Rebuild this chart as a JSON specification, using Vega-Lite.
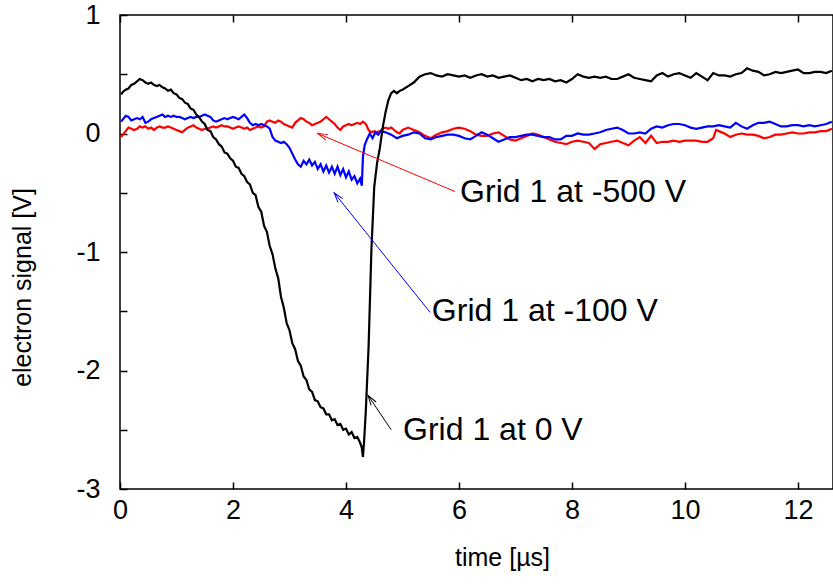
{
"$schema": "https://vega.github.io/schema/vega-lite/v6.json",
"width": 713, "height": 474,
"autosize": {"type": "none"},
"padding": {"left": 120, "top": 15, "right": 0, "bottom": 96},
"background": "white",
"config": {
  "font": "Liberation Sans",
  "view": {"stroke": "#000", "strokeWidth": 1.5},
  "axis": {"domain": false, "grid": false, "ticks": true, "tickColor": "#000", "tickWidth": 1.5, "tickSize": -7,
           "labelColor": "#000", "labelFont": "Liberation Sans", "labelFontSize": 27, "labelFlush": false, "labelOverlap": false,
           "titleFont": "Liberation Sans", "titleFontSize": 25, "titleFontWeight": "normal", "titleColor": "#000"}
},
"datasets": {
"curves": [
{"s":"r","t":0.02,"v":-0.03},{"s":"r","t":0.1,"v":0.02},{"s":"r","t":0.15,"v":0.05},{"s":"r","t":0.2,"v":0.04},{"s":"r","t":0.25,"v":0.03},{"s":"r","t":0.3,"v":0.04},{"s":"r","t":0.35,"v":0.06},{"s":"r","t":0.4,"v":0.05},{"s":"r","t":0.45,"v":0.06},{"s":"r","t":0.5,"v":0.04},{"s":"r","t":0.55,"v":0.05},{"s":"r","t":0.6,"v":0.03},{"s":"r","t":0.65,"v":0.05},{"s":"r","t":0.7,"v":0.06},{"s":"r","t":0.75,"v":0.05},{"s":"r","t":0.8,"v":0.05},{"s":"r","t":0.85,"v":0.06},{"s":"r","t":0.9,"v":0.05},{"s":"r","t":0.95,"v":0.04},{"s":"r","t":1.0,"v":0.03},{"s":"r","t":1.05,"v":0.02},{"s":"r","t":1.1,"v":0.01},{"s":"r","t":1.15,"v":0.03},{"s":"r","t":1.2,"v":0.05},{"s":"r","t":1.25,"v":0.06},{"s":"r","t":1.3,"v":0.07},{"s":"r","t":1.35,"v":0.05},{"s":"r","t":1.4,"v":0.04},{"s":"r","t":1.45,"v":0.03},{"s":"r","t":1.5,"v":0.04},{"s":"r","t":1.55,"v":0.04},{"s":"r","t":1.6,"v":0.05},{"s":"r","t":1.65,"v":0.06},{"s":"r","t":1.7,"v":0.05},{"s":"r","t":1.75,"v":0.06},{"s":"r","t":1.8,"v":0.07},{"s":"r","t":1.85,"v":0.06},{"s":"r","t":1.9,"v":0.06},{"s":"r","t":1.95,"v":0.05},{"s":"r","t":2.0,"v":0.04},{"s":"r","t":2.05,"v":0.05},{"s":"r","t":2.1,"v":0.06},{"s":"r","t":2.15,"v":0.05},{"s":"r","t":2.2,"v":0.04},{"s":"r","t":2.25,"v":0.05},{"s":"r","t":2.3,"v":0.03},{"s":"r","t":2.35,"v":0.04},{"s":"r","t":2.4,"v":0.05},{"s":"r","t":2.45,"v":0.06},{"s":"r","t":2.5,"v":0.05},{"s":"r","t":2.55,"v":0.06},{"s":"r","t":2.6,"v":0.1},{"s":"r","t":2.65,"v":0.11},{"s":"r","t":2.7,"v":0.1},{"s":"r","t":2.75,"v":0.09},{"s":"r","t":2.8,"v":0.11},{"s":"r","t":2.85,"v":0.1},{"s":"r","t":2.9,"v":0.08},{"s":"r","t":2.95,"v":0.07},{"s":"r","t":3.0,"v":0.06},{"s":"r","t":3.05,"v":0.05},{"s":"r","t":3.1,"v":0.09},{"s":"r","t":3.15,"v":0.11},{"s":"r","t":3.2,"v":0.13},{"s":"r","t":3.25,"v":0.12},{"s":"r","t":3.3,"v":0.1},{"s":"r","t":3.35,"v":0.09},{"s":"r","t":3.4,"v":0.07},{"s":"r","t":3.45,"v":0.08},{"s":"r","t":3.5,"v":0.09},{"s":"r","t":3.55,"v":0.1},{"s":"r","t":3.6,"v":0.12},{"s":"r","t":3.65,"v":0.14},{"s":"r","t":3.7,"v":0.12},{"s":"r","t":3.75,"v":0.1},{"s":"r","t":3.8,"v":0.08},{"s":"r","t":3.85,"v":0.05},{"s":"r","t":3.9,"v":0.03},{"s":"r","t":3.95,"v":0.06},{"s":"r","t":4.0,"v":0.07},{"s":"r","t":4.05,"v":0.08},{"s":"r","t":4.1,"v":0.07},{"s":"r","t":4.15,"v":0.08},{"s":"r","t":4.2,"v":0.09},{"s":"r","t":4.25,"v":0.08},{"s":"r","t":4.3,"v":0.1},{"s":"r","t":4.35,"v":0.08},{"s":"r","t":4.4,"v":0.03},{"s":"r","t":4.45,"v":0.01},{"s":"r","t":4.5,"v":0.02},{"s":"r","t":4.55,"v":0.01},{"s":"r","t":4.6,"v":0.02},{"s":"r","t":4.65,"v":0.04},{"s":"r","t":4.7,"v":0.05},{"s":"r","t":4.75,"v":0.04},{"s":"r","t":4.8,"v":0.05},{"s":"r","t":4.85,"v":0.03},{"s":"r","t":4.9,"v":0.01},{"s":"r","t":4.95,"v":0.0},{"s":"r","t":5.0,"v":0.03},{"s":"r","t":5.1,"v":0.05},{"s":"r","t":5.2,"v":0.03},{"s":"r","t":5.3,"v":0.01},{"s":"r","t":5.4,"v":-0.02},{"s":"r","t":5.5,"v":-0.04},{"s":"r","t":5.6,"v":-0.01},{"s":"r","t":5.7,"v":0.01},{"s":"r","t":5.8,"v":0.02},{"s":"r","t":5.9,"v":0.04},{"s":"r","t":6.0,"v":0.05},{"s":"r","t":6.1,"v":0.04},{"s":"r","t":6.2,"v":0.02},{"s":"r","t":6.3,"v":-0.01},{"s":"r","t":6.4,"v":-0.02},{"s":"r","t":6.5,"v":-0.02},{"s":"r","t":6.6,"v":0.0},{"s":"r","t":6.7,"v":0.01},{"s":"r","t":6.8,"v":-0.02},{"s":"r","t":6.9,"v":-0.05},{"s":"r","t":7.0,"v":-0.06},{"s":"r","t":7.1,"v":-0.04},{"s":"r","t":7.2,"v":-0.02},{"s":"r","t":7.3,"v":0.0},{"s":"r","t":7.4,"v":-0.01},{"s":"r","t":7.5,"v":-0.03},{"s":"r","t":7.6,"v":-0.05},{"s":"r","t":7.7,"v":-0.07},{"s":"r","t":7.8,"v":-0.08},{"s":"r","t":7.9,"v":-0.09},{"s":"r","t":8.0,"v":-0.07},{"s":"r","t":8.1,"v":-0.06},{"s":"r","t":8.2,"v":-0.07},{"s":"r","t":8.3,"v":-0.08},{"s":"r","t":8.4,"v":-0.13},{"s":"r","t":8.45,"v":-0.11},{"s":"r","t":8.5,"v":-0.09},{"s":"r","t":8.6,"v":-0.08},{"s":"r","t":8.7,"v":-0.07},{"s":"r","t":8.8,"v":-0.06},{"s":"r","t":8.9,"v":-0.08},{"s":"r","t":9.0,"v":-0.1},{"s":"r","t":9.1,"v":-0.06},{"s":"r","t":9.2,"v":-0.03},{"s":"r","t":9.3,"v":-0.08},{"s":"r","t":9.4,"v":-0.02},{"s":"r","t":9.5,"v":-0.08},{"s":"r","t":9.6,"v":-0.07},{"s":"r","t":9.7,"v":-0.07},{"s":"r","t":9.8,"v":-0.06},{"s":"r","t":9.9,"v":-0.07},{"s":"r","t":10.0,"v":-0.06},{"s":"r","t":10.1,"v":-0.06},{"s":"r","t":10.2,"v":-0.06},{"s":"r","t":10.3,"v":-0.07},{"s":"r","t":10.4,"v":-0.07},{"s":"r","t":10.5,"v":-0.04},{"s":"r","t":10.55,"v":0.03},{"s":"r","t":10.6,"v":0.02},{"s":"r","t":10.7,"v":0.0},{"s":"r","t":10.8,"v":-0.03},{"s":"r","t":10.9,"v":-0.01},{"s":"r","t":11.0,"v":0.0},{"s":"r","t":11.1,"v":-0.01},{"s":"r","t":11.2,"v":-0.01},{"s":"r","t":11.3,"v":-0.02},{"s":"r","t":11.4,"v":-0.04},{"s":"r","t":11.5,"v":-0.03},{"s":"r","t":11.6,"v":-0.01},{"s":"r","t":11.7,"v":-0.01},{"s":"r","t":11.8,"v":0.0},{"s":"r","t":11.9,"v":0.01},{"s":"r","t":12.0,"v":0.0},{"s":"r","t":12.1,"v":0.0},{"s":"r","t":12.2,"v":0.01},{"s":"r","t":12.3,"v":0.01},{"s":"r","t":12.4,"v":0.02},{"s":"r","t":12.5,"v":0.02},{"s":"r","t":12.6,"v":0.04},
{"s":"b","t":0.02,"v":0.1},{"s":"b","t":0.1,"v":0.15},{"s":"b","t":0.15,"v":0.14},{"s":"b","t":0.2,"v":0.11},{"s":"b","t":0.25,"v":0.12},{"s":"b","t":0.3,"v":0.13},{"s":"b","t":0.35,"v":0.12},{"s":"b","t":0.4,"v":0.14},{"s":"b","t":0.45,"v":0.09},{"s":"b","t":0.5,"v":0.1},{"s":"b","t":0.55,"v":0.12},{"s":"b","t":0.6,"v":0.13},{"s":"b","t":0.65,"v":0.14},{"s":"b","t":0.7,"v":0.15},{"s":"b","t":0.75,"v":0.16},{"s":"b","t":0.8,"v":0.14},{"s":"b","t":0.85,"v":0.15},{"s":"b","t":0.9,"v":0.14},{"s":"b","t":0.95,"v":0.15},{"s":"b","t":1.0,"v":0.14},{"s":"b","t":1.05,"v":0.14},{"s":"b","t":1.1,"v":0.13},{"s":"b","t":1.15,"v":0.12},{"s":"b","t":1.2,"v":0.13},{"s":"b","t":1.25,"v":0.14},{"s":"b","t":1.3,"v":0.13},{"s":"b","t":1.35,"v":0.14},{"s":"b","t":1.4,"v":0.14},{"s":"b","t":1.45,"v":0.15},{"s":"b","t":1.5,"v":0.16},{"s":"b","t":1.55,"v":0.15},{"s":"b","t":1.6,"v":0.14},{"s":"b","t":1.65,"v":0.11},{"s":"b","t":1.7,"v":0.1},{"s":"b","t":1.75,"v":0.11},{"s":"b","t":1.8,"v":0.12},{"s":"b","t":1.85,"v":0.13},{"s":"b","t":1.9,"v":0.12},{"s":"b","t":1.95,"v":0.13},{"s":"b","t":2.0,"v":0.14},{"s":"b","t":2.05,"v":0.13},{"s":"b","t":2.1,"v":0.12},{"s":"b","t":2.15,"v":0.14},{"s":"b","t":2.2,"v":0.16},{"s":"b","t":2.25,"v":0.13},{"s":"b","t":2.3,"v":0.09},{"s":"b","t":2.35,"v":0.07},{"s":"b","t":2.4,"v":0.08},{"s":"b","t":2.45,"v":0.07},{"s":"b","t":2.5,"v":0.08},{"s":"b","t":2.55,"v":0.07},{"s":"b","t":2.6,"v":0.06},{"s":"b","t":2.65,"v":0.04},{"s":"b","t":2.7,"v":-0.03},{"s":"b","t":2.75,"v":-0.06},{"s":"b","t":2.8,"v":-0.07},{"s":"b","t":2.85,"v":-0.08},{"s":"b","t":2.9,"v":-0.07},{"s":"b","t":2.95,"v":-0.09},{"s":"b","t":3.0,"v":-0.12},{"s":"b","t":3.05,"v":-0.17},{"s":"b","t":3.1,"v":-0.22},{"s":"b","t":3.15,"v":-0.26},{"s":"b","t":3.2,"v":-0.28},{"s":"b","t":3.25,"v":-0.23},{"s":"b","t":3.3,"v":-0.26},{"s":"b","t":3.35,"v":-0.22},{"s":"b","t":3.4,"v":-0.27},{"s":"b","t":3.45,"v":-0.24},{"s":"b","t":3.5,"v":-0.3},{"s":"b","t":3.55,"v":-0.26},{"s":"b","t":3.6,"v":-0.32},{"s":"b","t":3.65,"v":-0.27},{"s":"b","t":3.7,"v":-0.33},{"s":"b","t":3.75,"v":-0.28},{"s":"b","t":3.8,"v":-0.34},{"s":"b","t":3.85,"v":-0.28},{"s":"b","t":3.9,"v":-0.35},{"s":"b","t":3.95,"v":-0.3},{"s":"b","t":4.0,"v":-0.37},{"s":"b","t":4.05,"v":-0.32},{"s":"b","t":4.1,"v":-0.39},{"s":"b","t":4.15,"v":-0.36},{"s":"b","t":4.2,"v":-0.42},{"s":"b","t":4.25,"v":-0.38},{"s":"b","t":4.28,"v":-0.44},{"s":"b","t":4.3,"v":-0.2},{"s":"b","t":4.33,"v":-0.1},{"s":"b","t":4.37,"v":-0.05},{"s":"b","t":4.42,"v":0.0},{"s":"b","t":4.47,"v":-0.04},{"s":"b","t":4.52,"v":0.01},{"s":"b","t":4.57,"v":-0.01},{"s":"b","t":4.62,"v":0.02},{"s":"b","t":4.7,"v":0.01},{"s":"b","t":4.8,"v":-0.01},{"s":"b","t":4.9,"v":-0.04},{"s":"b","t":5.0,"v":-0.02},{"s":"b","t":5.1,"v":-0.01},{"s":"b","t":5.2,"v":0.01},{"s":"b","t":5.3,"v":0.0},{"s":"b","t":5.4,"v":-0.04},{"s":"b","t":5.5,"v":-0.05},{"s":"b","t":5.6,"v":-0.03},{"s":"b","t":5.7,"v":-0.02},{"s":"b","t":5.8,"v":-0.01},{"s":"b","t":5.9,"v":-0.01},{"s":"b","t":6.0,"v":-0.02},{"s":"b","t":6.1,"v":-0.04},{"s":"b","t":6.2,"v":-0.05},{"s":"b","t":6.3,"v":-0.02},{"s":"b","t":6.4,"v":0.01},{"s":"b","t":6.5,"v":-0.01},{"s":"b","t":6.6,"v":-0.04},{"s":"b","t":6.7,"v":-0.07},{"s":"b","t":6.8,"v":-0.05},{"s":"b","t":6.9,"v":-0.03},{"s":"b","t":7.0,"v":-0.03},{"s":"b","t":7.1,"v":-0.02},{"s":"b","t":7.2,"v":-0.01},{"s":"b","t":7.3,"v":-0.01},{"s":"b","t":7.4,"v":-0.02},{"s":"b","t":7.5,"v":-0.03},{"s":"b","t":7.6,"v":-0.03},{"s":"b","t":7.7,"v":-0.05},{"s":"b","t":7.8,"v":-0.05},{"s":"b","t":7.9,"v":-0.02},{"s":"b","t":8.0,"v":-0.02},{"s":"b","t":8.1,"v":0.0},{"s":"b","t":8.2,"v":-0.01},{"s":"b","t":8.3,"v":-0.01},{"s":"b","t":8.4,"v":0.0},{"s":"b","t":8.5,"v":0.01},{"s":"b","t":8.6,"v":0.03},{"s":"b","t":8.7,"v":0.04},{"s":"b","t":8.8,"v":0.05},{"s":"b","t":8.9,"v":0.03},{"s":"b","t":9.0,"v":0.0},{"s":"b","t":9.1,"v":0.0},{"s":"b","t":9.2,"v":0.01},{"s":"b","t":9.3,"v":0.0},{"s":"b","t":9.4,"v":0.04},{"s":"b","t":9.5,"v":0.06},{"s":"b","t":9.6,"v":0.05},{"s":"b","t":9.7,"v":0.07},{"s":"b","t":9.8,"v":0.08},{"s":"b","t":9.9,"v":0.08},{"s":"b","t":10.0,"v":0.07},{"s":"b","t":10.1,"v":0.05},{"s":"b","t":10.2,"v":0.04},{"s":"b","t":10.3,"v":0.05},{"s":"b","t":10.4,"v":0.06},{"s":"b","t":10.5,"v":0.06},{"s":"b","t":10.6,"v":0.07},{"s":"b","t":10.7,"v":0.06},{"s":"b","t":10.8,"v":0.05},{"s":"b","t":10.9,"v":0.09},{"s":"b","t":11.0,"v":0.06},{"s":"b","t":11.1,"v":0.04},{"s":"b","t":11.2,"v":0.07},{"s":"b","t":11.3,"v":0.09},{"s":"b","t":11.4,"v":0.09},{"s":"b","t":11.5,"v":0.1},{"s":"b","t":11.6,"v":0.08},{"s":"b","t":11.7,"v":0.06},{"s":"b","t":11.8,"v":0.06},{"s":"b","t":11.9,"v":0.07},{"s":"b","t":12.0,"v":0.07},{"s":"b","t":12.1,"v":0.06},{"s":"b","t":12.2,"v":0.07},{"s":"b","t":12.3,"v":0.06},{"s":"b","t":12.4,"v":0.07},{"s":"b","t":12.5,"v":0.08},{"s":"b","t":12.6,"v":0.1},
{"s":"k","t":0.02,"v":0.33},{"s":"k","t":0.05,"v":0.35},{"s":"k","t":0.1,"v":0.37},{"s":"k","t":0.15,"v":0.38},{"s":"k","t":0.2,"v":0.41},{"s":"k","t":0.25,"v":0.42},{"s":"k","t":0.3,"v":0.44},{"s":"k","t":0.35,"v":0.46},{"s":"k","t":0.4,"v":0.45},{"s":"k","t":0.45,"v":0.43},{"s":"k","t":0.5,"v":0.42},{"s":"k","t":0.55,"v":0.43},{"s":"k","t":0.6,"v":0.41},{"s":"k","t":0.65,"v":0.4},{"s":"k","t":0.7,"v":0.41},{"s":"k","t":0.75,"v":0.39},{"s":"k","t":0.8,"v":0.38},{"s":"k","t":0.85,"v":0.36},{"s":"k","t":0.9,"v":0.37},{"s":"k","t":0.95,"v":0.34},{"s":"k","t":1.0,"v":0.33},{"s":"k","t":1.05,"v":0.3},{"s":"k","t":1.1,"v":0.29},{"s":"k","t":1.15,"v":0.26},{"s":"k","t":1.2,"v":0.25},{"s":"k","t":1.25,"v":0.21},{"s":"k","t":1.3,"v":0.2},{"s":"k","t":1.35,"v":0.16},{"s":"k","t":1.4,"v":0.14},{"s":"k","t":1.45,"v":0.1},{"s":"k","t":1.5,"v":0.08},{"s":"k","t":1.55,"v":0.03},{"s":"k","t":1.6,"v":0.02},{"s":"k","t":1.65,"v":-0.03},{"s":"k","t":1.7,"v":-0.05},{"s":"k","t":1.75,"v":-0.09},{"s":"k","t":1.8,"v":-0.11},{"s":"k","t":1.85,"v":-0.16},{"s":"k","t":1.9,"v":-0.17},{"s":"k","t":1.95,"v":-0.21},{"s":"k","t":2.0,"v":-0.23},{"s":"k","t":2.05,"v":-0.28},{"s":"k","t":2.1,"v":-0.29},{"s":"k","t":2.15,"v":-0.34},{"s":"k","t":2.2,"v":-0.36},{"s":"k","t":2.25,"v":-0.41},{"s":"k","t":2.3,"v":-0.43},{"s":"k","t":2.35,"v":-0.5},{"s":"k","t":2.4,"v":-0.52},{"s":"k","t":2.45,"v":-0.62},{"s":"k","t":2.5,"v":-0.66},{"s":"k","t":2.55,"v":-0.78},{"s":"k","t":2.6,"v":-0.83},{"s":"k","t":2.65,"v":-0.95},{"s":"k","t":2.7,"v":-1.02},{"s":"k","t":2.75,"v":-1.14},{"s":"k","t":2.8,"v":-1.22},{"s":"k","t":2.85,"v":-1.38},{"s":"k","t":2.9,"v":-1.47},{"s":"k","t":2.95,"v":-1.6},{"s":"k","t":3.0,"v":-1.66},{"s":"k","t":3.05,"v":-1.77},{"s":"k","t":3.1,"v":-1.82},{"s":"k","t":3.15,"v":-1.92},{"s":"k","t":3.2,"v":-1.96},{"s":"k","t":3.25,"v":-2.05},{"s":"k","t":3.3,"v":-2.08},{"s":"k","t":3.35,"v":-2.16},{"s":"k","t":3.4,"v":-2.18},{"s":"k","t":3.45,"v":-2.25},{"s":"k","t":3.5,"v":-2.26},{"s":"k","t":3.55,"v":-2.31},{"s":"k","t":3.6,"v":-2.32},{"s":"k","t":3.65,"v":-2.37},{"s":"k","t":3.7,"v":-2.37},{"s":"k","t":3.75,"v":-2.42},{"s":"k","t":3.8,"v":-2.41},{"s":"k","t":3.85,"v":-2.46},{"s":"k","t":3.9,"v":-2.45},{"s":"k","t":3.95,"v":-2.5},{"s":"k","t":4.0,"v":-2.49},{"s":"k","t":4.05,"v":-2.54},{"s":"k","t":4.1,"v":-2.52},{"s":"k","t":4.15,"v":-2.57},{"s":"k","t":4.2,"v":-2.56},{"s":"k","t":4.25,"v":-2.61},{"s":"k","t":4.28,"v":-2.65},{"s":"k","t":4.3,"v":-2.73},{"s":"k","t":4.32,"v":-2.6},{"s":"k","t":4.35,"v":-2.35},{"s":"k","t":4.4,"v":-1.8},{"s":"k","t":4.45,"v":-0.98},{"s":"k","t":4.5,"v":-0.45},{"s":"k","t":4.55,"v":-0.25},{"s":"k","t":4.6,"v":-0.12},{"s":"k","t":4.65,"v":0.05},{"s":"k","t":4.7,"v":0.18},{"s":"k","t":4.75,"v":0.28},{"s":"k","t":4.8,"v":0.34},{"s":"k","t":4.85,"v":0.36},{"s":"k","t":4.9,"v":0.34},{"s":"k","t":4.95,"v":0.36},{"s":"k","t":5.0,"v":0.37},{"s":"k","t":5.1,"v":0.4},{"s":"k","t":5.2,"v":0.43},{"s":"k","t":5.3,"v":0.48},{"s":"k","t":5.4,"v":0.5},{"s":"k","t":5.5,"v":0.51},{"s":"k","t":5.6,"v":0.49},{"s":"k","t":5.7,"v":0.48},{"s":"k","t":5.8,"v":0.5},{"s":"k","t":5.9,"v":0.49},{"s":"k","t":6.0,"v":0.48},{"s":"k","t":6.1,"v":0.49},{"s":"k","t":6.2,"v":0.47},{"s":"k","t":6.3,"v":0.49},{"s":"k","t":6.4,"v":0.5},{"s":"k","t":6.5,"v":0.48},{"s":"k","t":6.6,"v":0.49},{"s":"k","t":6.7,"v":0.47},{"s":"k","t":6.8,"v":0.48},{"s":"k","t":6.9,"v":0.49},{"s":"k","t":7.0,"v":0.47},{"s":"k","t":7.1,"v":0.45},{"s":"k","t":7.2,"v":0.46},{"s":"k","t":7.3,"v":0.44},{"s":"k","t":7.4,"v":0.46},{"s":"k","t":7.5,"v":0.45},{"s":"k","t":7.6,"v":0.46},{"s":"k","t":7.7,"v":0.44},{"s":"k","t":7.8,"v":0.45},{"s":"k","t":7.9,"v":0.43},{"s":"k","t":8.0,"v":0.46},{"s":"k","t":8.1,"v":0.5},{"s":"k","t":8.2,"v":0.48},{"s":"k","t":8.3,"v":0.47},{"s":"k","t":8.4,"v":0.48},{"s":"k","t":8.5,"v":0.47},{"s":"k","t":8.6,"v":0.48},{"s":"k","t":8.7,"v":0.46},{"s":"k","t":8.8,"v":0.46},{"s":"k","t":8.9,"v":0.48},{"s":"k","t":9.0,"v":0.5},{"s":"k","t":9.1,"v":0.47},{"s":"k","t":9.2,"v":0.46},{"s":"k","t":9.3,"v":0.45},{"s":"k","t":9.4,"v":0.44},{"s":"k","t":9.5,"v":0.49},{"s":"k","t":9.6,"v":0.51},{"s":"k","t":9.7,"v":0.48},{"s":"k","t":9.8,"v":0.5},{"s":"k","t":9.9,"v":0.51},{"s":"k","t":10.0,"v":0.49},{"s":"k","t":10.1,"v":0.47},{"s":"k","t":10.2,"v":0.51},{"s":"k","t":10.3,"v":0.48},{"s":"k","t":10.4,"v":0.45},{"s":"k","t":10.5,"v":0.51},{"s":"k","t":10.6,"v":0.49},{"s":"k","t":10.7,"v":0.49},{"s":"k","t":10.8,"v":0.48},{"s":"k","t":10.9,"v":0.5},{"s":"k","t":11.0,"v":0.51},{"s":"k","t":11.1,"v":0.55},{"s":"k","t":11.2,"v":0.53},{"s":"k","t":11.3,"v":0.52},{"s":"k","t":11.4,"v":0.49},{"s":"k","t":11.5,"v":0.5},{"s":"k","t":11.6,"v":0.52},{"s":"k","t":11.7,"v":0.51},{"s":"k","t":11.8,"v":0.52},{"s":"k","t":11.9,"v":0.53},{"s":"k","t":12.0,"v":0.54},{"s":"k","t":12.1,"v":0.51},{"s":"k","t":12.2,"v":0.51},{"s":"k","t":12.3,"v":0.52},{"s":"k","t":12.4,"v":0.52},{"s":"k","t":12.5,"v":0.51},{"s":"k","t":12.6,"v":0.53}
],
"arrows": [
{"a":"r","t1":5.93,"v1":-0.49,"t2":3.5,"v2":0.0},
{"a":"b","t1":5.49,"v1":-1.51,"t2":3.79,"v2":-0.5},
{"a":"k","t1":4.8,"v1":-2.5,"t2":4.39,"v2":-2.21}
],
"labels": [
{"t":6.02,"v":-0.49,"txt":"Grid 1 at -500 V"},
{"t":5.52,"v":-1.5,"txt":"Grid 1 at -100 V"},
{"t":5.01,"v":-2.5,"txt":"Grid 1 at 0 V"}
]
},
"layer": [
{
 "data": {"name": "curves"},
 "mark": {"type": "line", "strokeWidth": 2.2, "clip": true, "interpolate": "linear"},
 "encoding": {
  "x": {"field": "t", "type": "quantitative", "scale": {"domain": [0, 12.62], "nice": false, "zero": false},
        "axis": {"orient": "bottom", "values": [0,2,4,6,8,10,12], "title": "time [µs]", "labelPadding": 15, "titlePadding": 22, "titleX": 382}},
  "y": {"field": "v", "type": "quantitative", "scale": {"domain": [-3, 1], "nice": false, "zero": false},
        "axis": {"values": [-3,-2.5,-2,-1.5,-1,-0.5,0,0.5,1], "labelExpr": "datum.value % 1 === 0 ? '' + datum.value : ''", "title": "electron signal [V]", "labelPadding": 27, "titlePadding": 40, "titleY": 272}},
  "color": {"field": "s", "type": "nominal", "scale": {"domain": ["r","b","k"], "range": ["#ff0000","#0000ff","#000000"]}, "legend": null}
 }
},
{
 "data": {"name": "arrows"},
 "mark": {"type": "rule", "strokeWidth": 1},
 "encoding": {
  "x": {"field": "t1", "type": "quantitative", "axis": null},
  "y": {"field": "v1", "type": "quantitative"},
  "x2": {"field": "t2"},
  "y2": {"field": "v2"},
  "color": {"field": "a", "type": "nominal", "legend": null}
 }
},
{
 "data": {"name": "arrows"},
 "transform": [{"filter": "datum.a === 'r'"}],
 "mark": {"type": "point", "shape": "M -0.3 1 L 0 0 L 0.3 1", "size": 400, "filled": false, "strokeWidth": 1, "angle": 292.9, "color": "#ff0000", "opacity": 1},
 "encoding": {"x": {"field": "t2", "type": "quantitative", "axis": null}, "y": {"field": "v2", "type": "quantitative"}}
},
{
 "data": {"name": "arrows"},
 "transform": [{"filter": "datum.a === 'b'"}],
 "mark": {"type": "point", "shape": "M -0.3 1 L 0 0 L 0.3 1", "size": 400, "filled": false, "strokeWidth": 1, "angle": 321.3, "color": "#0000ff", "opacity": 1},
 "encoding": {"x": {"field": "t2", "type": "quantitative", "axis": null}, "y": {"field": "v2", "type": "quantitative"}}
},
{
 "data": {"name": "arrows"},
 "transform": [{"filter": "datum.a === 'k'"}],
 "mark": {"type": "point", "shape": "M -0.3 1 L 0 0 L 0.3 1", "size": 400, "filled": false, "strokeWidth": 1, "angle": 326, "color": "#000000", "opacity": 1},
 "encoding": {"x": {"field": "t2", "type": "quantitative", "axis": null}, "y": {"field": "v2", "type": "quantitative"}}
},
{
 "data": {"name": "labels"},
 "mark": {"type": "text", "align": "left", "baseline": "middle", "fontSize": 32, "font": "Liberation Sans", "color": "#000"},
 "encoding": {
  "x": {"field": "t", "type": "quantitative", "axis": {"orient": "top", "values": [0,2,4,6,8,10,12], "labels": false, "title": null}},
  "y": {"field": "v", "type": "quantitative"},
  "text": {"field": "txt"}
 }
}
],
"resolve": {"axis": {"x": "independent"}}
}
